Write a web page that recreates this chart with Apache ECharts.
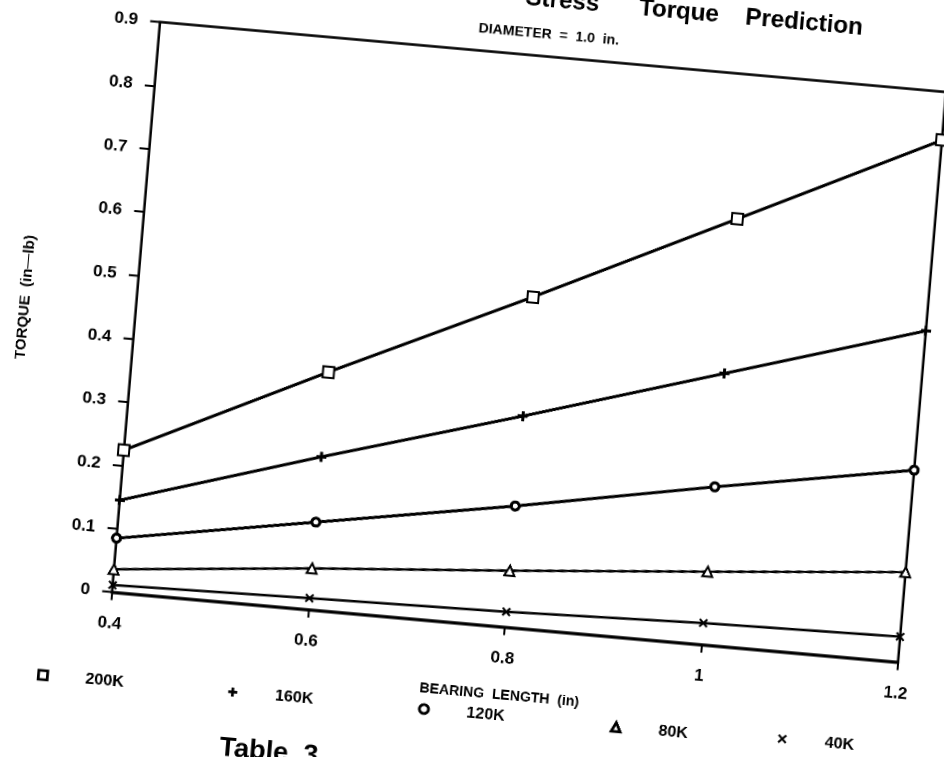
<!DOCTYPE html>
<html>
<head>
    <meta charset="UTF-8">
    <title>Torque Prediction</title>
    <style>
        html, body {
            margin: 0;
            padding: 0;
            width: 944px;
            height: 757px;
            overflow: hidden;
            background: #fff;
        }
        /* the scanned page is sheared a little, so the chart box is sheared the same way */
        #chart {
            position: absolute;
            left: -60px;
            top: -120px;
            width: 1080px;
            height: 960px;
            transform-origin: 172px 712px;
            transform: matrix(1, 0.0891, -0.0842, 1, 0, 0);
        }
    </style>
    <script src="https://cdn.jsdelivr.net/npm/echarts/dist/echarts.min.js"></script>
</head>
<body>
<div id="chart"></div>

<script type="text/javascript">
    // data
    var bearingLength = [0.4, 0.6, 0.8, 1.0, 1.2];
    var torque200K = [0.224, 0.375, 0.521, 0.672, 0.824];
    var torque160K = [0.145, 0.241, 0.333, 0.428, 0.523];
    var torque120K = [0.085, 0.138, 0.191, 0.249, 0.303];
    var torque80K = [0.036, 0.065, 0.089, 0.115, 0.142];
    var torque40K = [0.011, 0.018, 0.024, 0.034, 0.040];
    var seriesNames = ['200K', '160K', '120K', '80K', '40K'];
    var xTicks = [0.4, 0.6, 0.8, 1, 1.2];
    var yTicks = [0, 0.1, 0.2, 0.3, 0.4, 0.5, 0.6, 0.7, 0.8, 0.9];

    var font = '"Liberation Sans", Arial, sans-serif';
    var plusPath = 'path://M3.5,0H6.5V3.5H10V6.5H6.5V10H3.5V6.5H0V3.5H3.5Z';
    var crossPath = 'path://M0,1.6L1.6,0L5,3.4L8.4,0L10,1.6L6.6,5L10,8.4L8.4,10L5,6.6L1.6,10L0,8.4L3.4,5Z';

    // marker look per series
    var markers = [
        { symbol: 'rect', size: 11, fill: '#fff', border: 2 },
        { symbol: plusPath, size: 10, fill: '#000', border: 0 },
        { symbol: 'circle', size: 8, fill: '#fff', border: 3 },
        { symbol: 'triangle', size: 10, fill: '#fff', border: 2 },
        { symbol: crossPath, size: 9, fill: '#000', border: 0 }
    ];
    // legend icon centres (chart box coords)
    var legendPos = [[109.5, 801.6], [300.5, 801.5], [490.5, 801.6], [682.6, 802.5], [850, 799.5]];

    var allValues = [torque200K, torque160K, torque120K, torque80K, torque40K];

    var series = [];
    var legends = [];
    for (var i = 0; i < seriesNames.length; i++) {
        var pts = [];
        for (var j = 0; j < bearingLength.length; j++) {
            pts.push([bearingLength[j], allValues[i][j]]);
        }
        var m = markers[i];
        series.push({
            name: seriesNames[i],
            type: 'line',
            data: pts,
            symbol: m.symbol,
            symbolSize: m.size,
            showAllSymbol: true,
            lineStyle: { color: '#000', width: i < 3 ? 3 : 2.5 },
            itemStyle: { color: m.fill, borderColor: '#000', borderWidth: m.border },
            emphasis: { disabled: true }
        });
        legends.push({
            data: [{ name: seriesNames[i], icon: m.symbol }],
            left: legendPos[i][0] - 5,
            top: legendPos[i][1] - 9,
            padding: 0,
            itemWidth: 9,
            itemHeight: 9,
            selectedMode: false,
            itemStyle: { color: m.fill, borderColor: '#000', borderWidth: m.border ? 2.8 : 0 },
            textStyle: {
                color: '#000', fontFamily: font, fontWeight: 'bold', fontSize: 16,
                padding: [0, 0, 0, 33]
            }
        });
    }

    var myChart = echarts.init(document.getElementById('chart'), null, { renderer: 'canvas', devicePixelRatio: 2 });

    var option = {
        animation: false,
        backgroundColor: 'transparent',
        grid: {
            left: 172, top: 142, width: 786, height: 570,
            containLabel: false,
            outerBoundsMode: 'none',
            show: true,
            borderColor: '#000',
            borderWidth: 2.5
        },
        legend: legends,
        graphic: [
            {
                type: 'text', x: 870, y: 86,
                style: {
                    text: 'Stress      Torque    Prediction',
                    font: 'bold 24px ' + font, fill: '#000',
                    textAlign: 'right', textVerticalAlign: 'middle'
                }
            },
            {
                type: 'text', x: 559, y: 120,
                style: {
                    text: 'DIAMETER  =  1.0  in.',
                    font: 'bold 14px ' + font, fill: '#000',
                    textAlign: 'center', textVerticalAlign: 'middle'
                }
            },
            {
                type: 'text', x: 341, y: 857,
                style: {
                    text: 'Table  3',
                    font: 'bold 27px ' + font, fill: '#000',
                    textAlign: 'center', textVerticalAlign: 'middle'
                }
            }
        ],
        xAxis: {
            type: 'value',
            min: xTicks[0],
            max: xTicks[xTicks.length - 1],
            interval: 0.2,
            name: 'BEARING  LENGTH  (in)',
            nameLocation: 'middle',
            nameGap: 61,
            nameTextStyle: { color: '#000', fontFamily: font, fontWeight: 'bold', fontSize: 14 },
            axisLine: { show: true, lineStyle: { color: '#000', width: 3 } },
            axisTick: { show: true, length: 8, lineStyle: { color: '#000', width: 2 } },
            axisLabel: {
                margin: 23, color: '#000', fontFamily: font, fontWeight: 'bold', fontSize: 17,
                formatter: function (v) {
                    for (var k = 0; k < xTicks.length; k++) {
                        if (Math.abs(xTicks[k] - v) < 1e-6) return String(xTicks[k]);
                    }
                    return '';
                }
            },
            splitLine: { show: false }
        },
        yAxis: {
            type: 'value',
            min: yTicks[0],
            max: yTicks[yTicks.length - 1],
            interval: 0.1,
            name: 'TORQUE  (in\u2014lb)',
            nameLocation: 'middle',
            nameRotate: 90,
            nameGap: 103,
            nameTextStyle: { color: '#000', fontFamily: font, fontWeight: 'bold', fontSize: 15 },
            axisLine: { show: true, lineStyle: { color: '#000', width: 2 } },
            axisTick: { show: true, length: 10, lineStyle: { color: '#000', width: 2 } },
            axisLabel: {
                margin: 22, color: '#000', fontFamily: font, fontWeight: 'bold', fontSize: 17,
                formatter: function (v) {
                    for (var k = 0; k < yTicks.length; k++) {
                        if (Math.abs(yTicks[k] - v) < 1e-6) return String(yTicks[k]);
                    }
                    return '';
                }
            },
            splitLine: { show: false }
        },
        series: series
    };

    myChart.setOption(option);
</script>
</body>
</html>
